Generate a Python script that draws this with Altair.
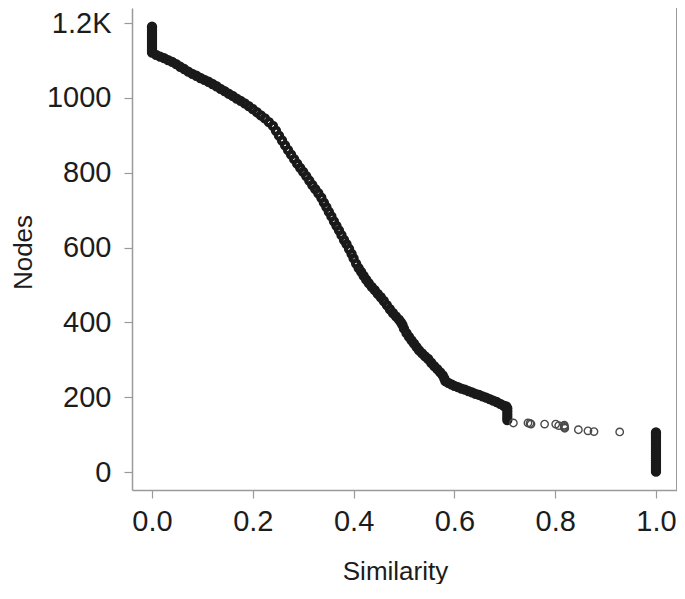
import altair as alt
import pandas as pd

# Similarity (x) and Nodes (y), segment by segment
start_sim = [0.0] * 12
start_nodes = [1127, 1133, 1139, 1145, 1151, 1157, 1163, 1169, 1175, 1181, 1187, 1190]

upper_sim = [0.000, 0.008, 0.016, 0.024, 0.032, 0.040, 0.048, 0.056, 0.064, 0.072,
             0.080, 0.088, 0.096, 0.104, 0.112, 0.120, 0.128, 0.136, 0.144, 0.152,
             0.160, 0.168, 0.176, 0.184, 0.192, 0.200, 0.208, 0.216, 0.224, 0.232, 0.240]
upper_nodes = [1121, 1115, 1110, 1106, 1101, 1096, 1090, 1083, 1077, 1070,
               1064, 1059, 1053, 1048, 1043, 1037, 1031, 1024, 1018, 1011,
               1005, 998, 992, 985, 978, 970, 962, 953, 945, 935, 925]

middle_sim = [0.246, 0.252, 0.258, 0.264, 0.270, 0.276, 0.282, 0.288, 0.294, 0.300,
              0.306, 0.312, 0.318, 0.324, 0.330, 0.336, 0.341, 0.346, 0.351, 0.356,
              0.361, 0.366, 0.371, 0.376, 0.381, 0.386, 0.391, 0.396, 0.400, 0.405,
              0.410, 0.415, 0.420, 0.425, 0.430, 0.436, 0.442, 0.448, 0.454, 0.460,
              0.466, 0.472, 0.478, 0.484, 0.490, 0.494, 0.497, 0.500, 0.505, 0.510,
              0.515, 0.520, 0.525, 0.530, 0.536, 0.542, 0.548, 0.554, 0.560, 0.566,
              0.572, 0.577, 0.580, 0.582]
middle_nodes = [912, 899, 886, 873, 860, 848, 836, 824, 813, 802,
                791, 779, 767, 756, 745, 733, 720, 708, 695, 683,
                670, 658, 646, 633, 620, 609, 596, 583, 571, 557,
                545, 535, 524, 514, 505, 495, 486, 476, 467, 457,
                446, 435, 425, 416, 407, 400, 393, 383, 371, 361,
                352, 343, 334, 325, 317, 309, 302, 292, 283, 275,
                266, 258, 250, 243]

lower_sim = [0.588, 0.594, 0.600, 0.607, 0.614, 0.621, 0.628, 0.635, 0.642, 0.649,
             0.656, 0.663, 0.670, 0.677, 0.684, 0.691, 0.698, 0.703,
             0.705, 0.705, 0.705, 0.705, 0.705]
lower_nodes = [238, 234, 230, 227, 223, 220, 216, 213, 209, 206,
               202, 199, 195, 191, 187, 182, 177, 175,
               170, 162, 154, 146, 139]

tail_sim = [0.717, 0.746, 0.750, 0.752, 0.779, 0.801, 0.807, 0.818, 0.818, 0.818,
            0.819, 0.846, 0.865, 0.877, 0.928]
tail_nodes = [131, 131, 130, 128, 128, 128, 124, 125, 122, 119,
              117, 113, 110, 108, 107]

identical_sim = [1.0] * 19
identical_nodes = [1, 7, 13, 19, 25, 31, 37, 43, 49, 55, 61, 67, 73, 79, 85, 91, 97, 102, 106]

dense_sim = start_sim + upper_sim + middle_sim + lower_sim + identical_sim
dense_nodes = start_nodes + upper_nodes + middle_nodes + lower_nodes + identical_nodes

dense_df = pd.DataFrame({"Similarity": dense_sim, "Nodes": dense_nodes})
tail_df = pd.DataFrame({"Similarity": tail_sim, "Nodes": tail_nodes})

FONT = "Liberation Sans"
AXIS_GREY = "#9a9a9a"
TEXT = "#1c1c1c"

x_scale = alt.Scale(domain=[-0.0397, 1.0417], nice=False, zero=False)
y_scale = alt.Scale(domain=[-48.1, 1240.1], nice=False, zero=False)

x_axis = alt.Axis(
    values=[0.0, 0.2, 0.4, 0.6, 0.8, 1.0], format=".1f", grid=False,
    domainColor=AXIS_GREY, domainWidth=1.5, tickColor=AXIS_GREY, tickWidth=1.2,
    tickSize=8, labelFontSize=29, labelFont=FONT, labelColor=TEXT,
    labelPadding=9, titleFontSize=26, titleFont=FONT, titleColor=TEXT,
    titleFontWeight="normal", titleX=263, titleY=81, titleBaseline="middle",
    titleAnchor="start", titleAlign="center",
)
y_axis = alt.Axis(
    values=[0, 200, 400, 600, 800, 1000, 1200], format="d",
    labelExpr="datum.value == 1200 ? '1.2K' : datum.label", grid=False,
    domainColor=AXIS_GREY, domainWidth=1.5, tickColor=AXIS_GREY, tickWidth=1.2,
    tickSize=8, labelFontSize=29, labelFont=FONT, labelColor=TEXT,
    labelPadding=13, titleFontSize=26, titleFont=FONT, titleColor=TEXT,
    titleFontWeight="normal", titleX=-109, titleY=244, titleBaseline="middle",
    titleAlign="center", titleAngle=270,
)

dense = alt.Chart(dense_df).mark_point(
    shape="circle", filled=False, size=40, strokeWidth=4,
    color="#1a1a1a", opacity=1,
).encode(
    x=alt.X("Similarity:Q", scale=x_scale, axis=x_axis),
    y=alt.Y("Nodes:Q", scale=y_scale, axis=y_axis),
)

tail = alt.Chart(tail_df).mark_point(
    shape="circle", filled=False, size=55, strokeWidth=1.4,
    color="#4a4a4a", opacity=1,
).encode(
    x=alt.X("Similarity:Q", scale=x_scale),
    y=alt.Y("Nodes:Q", scale=y_scale),
)

right_border = alt.Chart(tail_df).mark_rule(color=AXIS_GREY, strokeWidth=1.5).encode(
    x=alt.value(545), y=alt.value(0), y2=alt.value(482)
)

chart = alt.layer(dense, tail, right_border).properties(
    width=545, height=482,
    autosize=alt.AutoSizeParams(type="none"),
    padding={"left": 124, "top": 0, "right": 0, "bottom": 94},
    background="white",
).configure_view(stroke=None)

chart.save("out.html", embed_options={"renderer": "svg", "actions": False})
